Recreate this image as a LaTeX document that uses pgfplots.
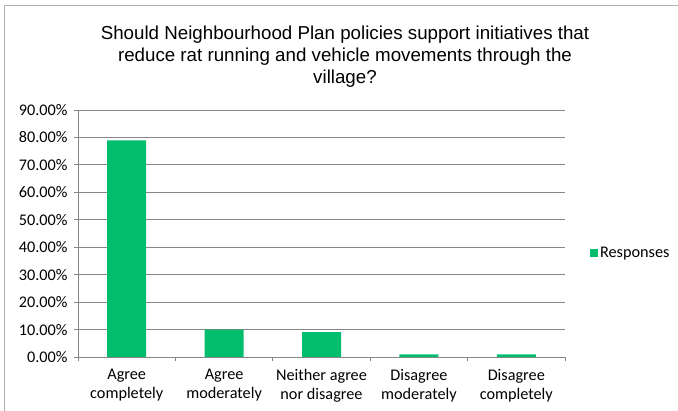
\documentclass[border=0pt]{standalone}
\usepackage{fontspec}
\setmainfont{Carlito}
\newfontfamily\titlefont{Liberation Sans}
\usepackage{pgfplots}
\pgfplotsset{compat=1.18}
\definecolor{bargreen}{RGB}{0,190,110}
\definecolor{gridgray}{RGB}{134,134,134}
\begin{document}
\begin{tikzpicture}
\useasboundingbox (0,0) rectangle (678bp,411bp);
\draw[gray!60, line width=1bp] (4.5bp,0) |- (678bp,405.5bp);
\node[align=center, font=\titlefont\fontsize{18.8}{22}\selectfont, text=black] at (345bp,354bp)
  {Should Neighbourhood Plan policies support initiatives that\\reduce rat running and vehicle movements through the\\village?};
\begin{axis}[
  at={(78bp,54bp)}, anchor=south west,
  scale only axis, width=487bp, height=247bp,
  xmin=-0.5, xmax=4.5, ymin=0, ymax=90,
  ytick={0,10,...,90},
  yticklabel={\pgfmathprintnumber[fixed,fixed zerofill,precision=2]{\tick}\%},
  /pgf/number format/assume math mode=true,
  font=\fontsize{16.3}{18.5}\selectfont,
  axis lines*=left,
  axis line style={gridgray, line width=1bp},
  ymajorgrids, grid style={gridgray, line width=1bp},
  tick align=outside,
  major tick length=4bp,
  tick style={gridgray, line width=1bp},
  xtick={-0.5,0.5,...,4.5},
  xticklabels={},
  extra x ticks={0,1,2,3,4},
  extra x tick labels={{Agree\\completely},{Agree\\moderately},{Neither agree\\nor disagree},{Disagree\\moderately},{Disagree\\completely}},
  extra x tick style={major tick length=0pt, xticklabel style={align=center, yshift=-9bp}},
  yticklabel style={xshift=-3bp},
  legend style={at={(1.045,0.42)}, anchor=west, draw=none, fill=none, font=\fontsize{16.3}{18.5}\selectfont},
  legend image code/.code={\fill[bargreen] (0bp,-4bp) rectangle (8bp,4bp);},
]
\addplot[ybar, bar width=39bp, fill=bargreen, draw=none] coordinates {(0,78.9) (1,10.0) (2,9.1) (3,1.0) (4,1.0)};
\addlegendentry{Responses}
\end{axis}
\end{tikzpicture}
\end{document}
